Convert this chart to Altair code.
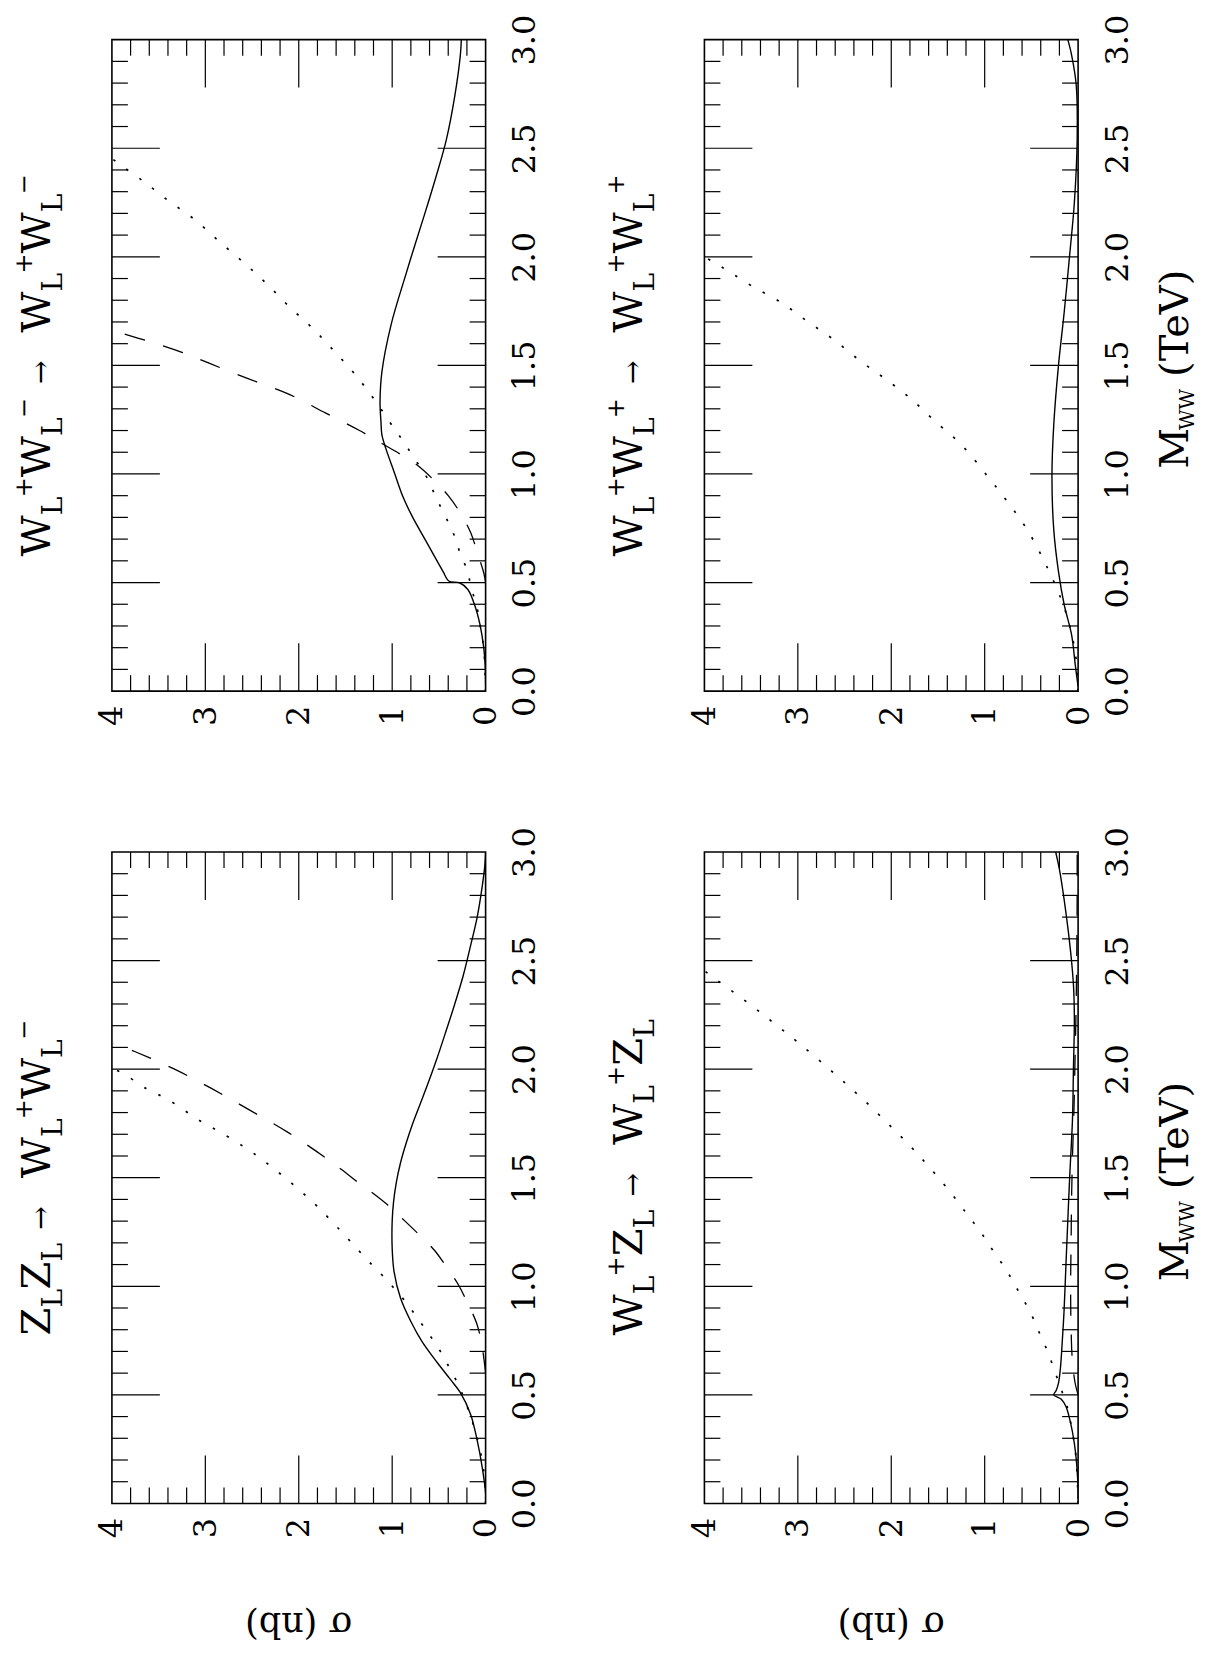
import altair as alt
import pandas as pd

# ---------------- data ----------------
# panel 1: W_L+ W_L- -> W_L+ W_L-
ww_solid_m = [0.02, 0.12, 0.20, 0.306, 0.40, 0.468, 0.499, 0.506, 0.55, 0.60, 0.70, 0.80, 0.89, 1.01, 1.12, 1.18, 1.24, 1.33, 1.47, 1.69, 1.91, 2.05, 2.20, 2.37, 2.54, 2.74, 2.93, 3.0]
ww_solid_s = [0.0, 0.005, 0.02, 0.06, 0.12, 0.19, 0.28, 0.39, 0.455, 0.52, 0.65, 0.78, 0.88, 0.98, 1.07, 1.11, 1.12, 1.13, 1.11, 1.01, 0.86, 0.76, 0.65, 0.53, 0.42, 0.33, 0.27, 0.26]
ww_dash_m = [0.50, 0.545, 0.64, 0.73, 0.82, 0.90, 0.97, 1.04, 1.09, 1.14, 1.20, 1.28, 1.37, 1.44, 1.51, 1.56, 1.61, 1.655, 1.67]
ww_dash_s = [0.0, 0.02, 0.09, 0.16, 0.27, 0.40, 0.55, 0.73, 0.91, 1.11, 1.35, 1.71, 2.12, 2.55, 2.96, 3.25, 3.60, 3.95, 4.05]
ww_dot_m = [0.0, 0.20, 0.276, 0.345, 0.41, 0.49, 0.56, 0.63, 0.70, 0.76, 0.83, 0.90, 0.97, 1.09, 1.15, 1.21, 1.33, 1.46, 1.57, 1.67, 1.77, 1.87, 1.97, 2.07, 2.17, 2.26, 2.35, 2.43, 2.46]
ww_dot_s = [0.0, 0.02, 0.05, 0.07, 0.11, 0.16, 0.20, 0.27, 0.32, 0.38, 0.46, 0.54, 0.61, 0.79, 0.88, 0.98, 1.17, 1.40, 1.63, 1.85, 2.10, 2.33, 2.58, 2.85, 3.11, 3.40, 3.67, 3.93, 4.02]

# panel 2: W_L+ W_L+ -> W_L+ W_L+
pp_solid_m = [0.02, 0.12, 0.26, 0.40, 0.55, 0.74, 0.99, 1.23, 1.50, 1.74, 2.01, 2.25, 2.54, 2.79, 2.93, 3.0]
pp_solid_s = [0.0, 0.03, 0.07, 0.15, 0.21, 0.26, 0.28, 0.26, 0.21, 0.15, 0.09, 0.04, 0.01, 0.02, 0.07, 0.11]
pp_dot_m = [0.0, 0.16, 0.30, 0.41, 0.56, 0.74, 0.88, 0.99, 1.13, 1.25, 1.35, 1.44, 1.52, 1.62, 1.70, 1.79, 1.86, 1.93, 1.98, 2.01]
pp_dot_s = [0.0, 0.025, 0.09, 0.17, 0.32, 0.54, 0.77, 0.97, 1.24, 1.55, 1.80, 2.07, 2.33, 2.62, 2.89, 3.18, 3.47, 3.73, 3.92, 4.04]

# panel 3: Z_L Z_L -> W_L+ W_L-
zz_solid_m = [0.02, 0.047, 0.163, 0.29, 0.41, 0.51, 0.57, 0.65, 0.745, 0.838, 0.945, 1.068, 1.175, 1.30, 1.39, 1.48, 1.57, 1.66, 1.75, 1.84, 1.93, 2.05, 2.18, 2.30, 2.43, 2.57, 2.70, 2.83, 2.93, 3.0]
zz_solid_s = [0.0, 0.0, 0.035, 0.09, 0.16, 0.27, 0.375, 0.52, 0.68, 0.80, 0.91, 0.98, 1.0, 1.0, 0.985, 0.955, 0.91, 0.85, 0.78, 0.70, 0.62, 0.52, 0.42, 0.33, 0.24, 0.16, 0.09, 0.04, 0.01, 0.0]
zz_dash_m = [0.60, 0.638, 0.745, 0.83, 0.92, 1.006, 1.09, 1.167, 1.237, 1.305, 1.375, 1.436, 1.47, 1.54, 1.60, 1.71, 1.81, 1.91, 2.00, 2.08, 2.12]
zz_dash_s = [0.0, 0.01, 0.046, 0.096, 0.19, 0.29, 0.42, 0.55, 0.71, 0.875, 1.05, 1.23, 1.34, 1.55, 1.74, 2.12, 2.52, 2.93, 3.33, 3.75, 3.98]
zz_dot_m = [0.0, 0.15, 0.30, 0.40, 0.477, 0.546, 0.61, 0.676, 0.738, 0.80, 0.86, 0.92, 0.976, 1.03, 1.083, 1.137, 1.25, 1.40, 1.57, 1.64, 1.71, 1.76, 1.86, 1.91, 1.98, 2.00]
zz_dot_s = [0.0, 0.02, 0.09, 0.16, 0.225, 0.29, 0.37, 0.45, 0.54, 0.64, 0.74, 0.84, 0.95, 1.06, 1.18, 1.30, 1.54, 1.88, 2.35, 2.58, 2.84, 3.05, 3.40, 3.63, 3.88, 3.98]

# panel 4: W_L+ Z_L -> W_L+ Z_L
wz_solid_m = [0.02, 0.055, 0.18, 0.277, 0.37, 0.446, 0.48, 0.50, 0.52, 0.554, 0.62, 0.707, 0.89, 1.10, 1.305, 1.505, 1.77, 2.0, 2.23, 2.39, 2.54, 2.72, 2.92, 3.0]
wz_solid_s = [0.0, 0.0, 0.015, 0.04, 0.08, 0.13, 0.18, 0.26, 0.235, 0.21, 0.19, 0.175, 0.15, 0.13, 0.11, 0.09, 0.06, 0.05, 0.04, 0.05, 0.08, 0.13, 0.20, 0.24]
wz_dash_m = [0.50, 0.55, 0.65, 0.80, 1.0, 1.2, 1.4, 1.6, 1.8, 2.0, 2.2, 2.5, 2.8, 3.0]
wz_dash_s = [0.0, 0.03, 0.06, 0.075, 0.08, 0.075, 0.07, 0.06, 0.045, 0.035, 0.025, 0.015, 0.01, 0.01]
wz_dot_m = [0.0, 0.20, 0.35, 0.45, 0.50, 0.55, 0.626, 0.695, 0.76, 0.83, 0.90, 0.963, 1.025, 1.09, 1.15, 1.21, 1.27, 1.33, 1.44, 1.61, 1.76, 1.88, 1.98, 2.12, 2.22, 2.32, 2.43, 2.46]
wz_dot_s = [0.0, 0.02, 0.07, 0.12, 0.16, 0.20, 0.265, 0.32, 0.39, 0.457, 0.535, 0.62, 0.70, 0.79, 0.89, 0.98, 1.078, 1.185, 1.38, 1.72, 2.06, 2.35, 2.61, 2.99, 3.28, 3.58, 3.93, 4.02]

sigma_labels = [0, 1, 2, 3, 4]
m_labels = [0.0, 0.5, 1.0, 1.5, 2.0, 2.5, 3.0]

# ---------------- styling / layout ----------------
FONT = "DejaVu Serif"
W, H = 374, 652
XS = alt.Scale(domain=[0, 4], reverse=True, nice=False, zero=False)
YS = alt.Scale(domain=[0, 3], nice=False, zero=False)
LABEL_SIZE = 32

X_AXIS = alt.Axis(orient="bottom", values=sigma_labels, format="d", labelAngle=270,
                  labelAlign="right", labelBaseline="middle", labelPadding=14,
                  labelFont=FONT, labelFontSize=LABEL_SIZE, labelColor="black",
                  labelFlush=False, labelOverlap=False, ticks=False, tickSize=0,
                  domain=False, grid=False, title=None)
Y_AXIS = alt.Axis(orient="right", values=m_labels, format=".1f", labelAngle=270,
                  labelAlign="center", labelBaseline="top", labelPadding=24,
                  labelFont=FONT, labelFontSize=LABEL_SIZE, labelColor="black",
                  labelFlush=False, labelOverlap=False, ticks=False, tickSize=0,
                  domain=False, grid=False, title=None)


def XENC(field):
    return alt.X(f"{field}:Q", scale=XS, axis=X_AXIS)


def YENC(field):
    return alt.Y(f"{field}:Q", scale=YS, axis=Y_AXIS)


m_minor = [round(0.1 * i, 1) for i in range(1, 30) if i % 5 != 0]
m_major = [round(0.1 * i, 1) for i in range(1, 30) if i % 5 == 0]
s_minor = [round(0.2 * i, 1) for i in range(1, 20) if i % 5 != 0]
s_major = [1, 2, 3]
MINOR, MAJOR = 16, 48

ADV = {"W": 1.03, "L": 0.64, "Z": 0.70, "M": 0.97, "+": 0.838, "\u2212": 0.838,
       "\u2192": 0.838, " ": 0.318, "(": 0.39, ")": 0.39, "T": 0.735, "e": 0.592, "V": 0.77}


def adv(t, size):
    return sum(ADV.get(c, 0.6) for c in t) * size


def line_layer(m, s, width, dash=None):
    kw = dict(color="black", strokeWidth=width, clip=True, interpolate="catmull-rom")
    if dash is not None:
        kw["strokeDash"] = dash
        kw["strokeCap"] = "butt"
    return alt.Chart(pd.DataFrame({"s": s, "m": m})).mark_line(**kw).encode(
        x=XENC("s"), y=YENC("m"), order="m:Q")


def tick_layers():
    out = []
    rk = dict(color="black", strokeWidth=1.2)
    for vals, ln in ((m_minor, MINOR), (m_major, MAJOR)):
        d = pd.DataFrame({"m": vals})
        out.append(alt.Chart(d).mark_rule(**rk).encode(
            y=YENC("m"), x=alt.value(0), x2=alt.value(ln)))
        out.append(alt.Chart(d).mark_rule(**rk).encode(
            y=YENC("m"), x=alt.value(W), x2=alt.value(W - ln)))
    for vals, ln in ((s_minor, MINOR), (s_major, MAJOR)):
        d = pd.DataFrame({"s": vals})
        out.append(alt.Chart(d).mark_rule(**rk).encode(
            x=XENC("s"), y=alt.value(0), y2=alt.value(ln)))
        out.append(alt.Chart(d).mark_rule(**rk).encode(
            x=XENC("s"), y=alt.value(H), y2=alt.value(H - ln)))
    return out


ROLE = {  # font size, baseline shift (screen x)
    "main": (40, 0), "sub": (28, 12), "sup": (24, -18), "arrow": (28, 0), "msub": (20, 6),
}


def text_piece(txt, size, x, y, angle, align="left"):
    return alt.Chart(pd.DataFrame({"t": [txt]})).mark_text(
        font=FONT, fontSize=size, angle=angle, align=align, baseline="alphabetic",
        color="black").encode(x=alt.value(x), y=alt.value(y), text="t:N")


def vertical_rich(pieces, base_x, center_y):
    total = 0
    for txt, role in pieces:
        total += txt if role == "gap" else adv(txt, ROLE[role][0])
    y = center_y + total / 2
    out = []
    for txt, role in pieces:
        if role == "gap":
            y -= txt
            continue
        size, shift = ROLE[role]
        out.append(text_piece(txt, size, base_x + shift, y, 270))
        y -= adv(txt, size)
    return out


def particle(sym, charge):
    p = [(sym, "main"), ("L", "sub")]
    if charge:
        p.append((charge, "sup"))
    return p


ARROW = [(14, "gap"), ("\u2192", "arrow"), (28, "gap")]
PLUS, MINUS = "+", "\u2212"

TITLES = {
    "ww": particle("W", PLUS) + particle("W", MINUS) + ARROW + particle("W", PLUS) + particle("W", MINUS),
    "pp": particle("W", PLUS) + particle("W", PLUS) + ARROW + particle("W", PLUS) + particle("W", PLUS),
    "zz": particle("Z", None) + particle("Z", None) + ARROW + particle("W", PLUS) + particle("W", MINUS),
    "wz": particle("W", PLUS) + particle("Z", None) + ARROW + particle("W", PLUS) + particle("Z", None),
}
M_TITLE = [("M", "main"), ("WW", "msub"), (12, "gap"), ("(TeV)", "main")]


def invisible(x, y):
    return alt.Chart(pd.DataFrame({"a": [0]})).mark_rule(strokeOpacity=0).encode(
        x=alt.value(x), x2=alt.value(x + 1), y=alt.value(y), y2=alt.value(y + 1))


def panel(key, solid, dash, dot, sigma_title=False, m_title=False, anchor=False):
    layers = []
    if dot is not None:
        layers.append(line_layer(dot[0], dot[1], 1.7, [2.5, 13.5]))
    if dash is not None:
        layers.append(line_layer(dash[0], dash[1], 1.3, [21, 19]))
    layers.append(line_layer(solid[0], solid[1], 1.4))
    layers += tick_layers()
    layers += vertical_rich(TITLES[key], -62, H / 2)
    if m_title:
        layers += vertical_rich(M_TITLE, W + 110, H / 2)
        layers.append(invisible(W + 121, H / 2))
    if sigma_title:
        layers.append(text_piece("\u03c3 (nb)", 35, W / 2, H + 110, 180, align="center"))
        layers.append(invisible(W / 2, H + 142))
    if anchor:
        layers.append(invisible(-103, -30))
    return alt.layer(*layers).properties(width=W, height=H)


p1 = panel("ww", (ww_solid_m, ww_solid_s), (ww_dash_m, ww_dash_s), (ww_dot_m, ww_dot_s), anchor=True)
p2 = panel("pp", (pp_solid_m, pp_solid_s), None, (pp_dot_m, pp_dot_s), m_title=True)
p3 = panel("zz", (zz_solid_m, zz_solid_s), (zz_dash_m, zz_dash_s), (zz_dot_m, zz_dot_s), sigma_title=True)
p4 = panel("wz", (wz_solid_m, wz_solid_s), (wz_dash_m, wz_dash_s), (wz_dot_m, wz_dot_s),
           sigma_title=True, m_title=True)

chart = alt.concat(p1, p2, p3, p4, columns=2, spacing={"row": 161, "column": 219},
                   bounds="flush").properties(
    padding=0, background="white"
).configure_view(stroke="black", strokeWidth=1.6)

chart.save("out.html", embed_options={"renderer": "svg", "actions": False})
